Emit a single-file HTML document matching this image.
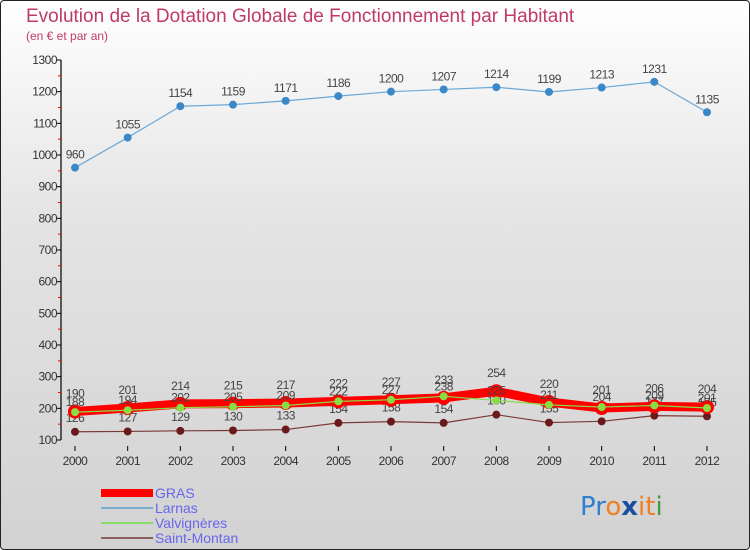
<!DOCTYPE html>
<html><head><meta charset="utf-8">
<style>
html,body{margin:0;padding:0}
body{width:750px;height:550px;overflow:hidden;font-family:"Liberation Sans",sans-serif}
#wrap{position:absolute;left:0;top:0;width:748px;height:548px;border:1px solid #222;border-radius:4px;background:linear-gradient(#ffffff 0%,#e4e4e4 40%,#d2d2d2 100%)}
</style></head>
<body>
<div id="wrap">
<svg id="chart" width="750" height="550" style="position:absolute;left:-1px;top:-1px">
<text x="26" y="22" font-size="19" fill="#c03a68">Evolution de la Dotation Globale de Fonctionnement par Habitant</text>
<text x="26" y="40" font-size="12" fill="#c03a68">(en € et par an)</text>
<g id="axes"></g>
<g id="series"></g>
<g>
<rect x="101" y="489" width="52" height="8" fill="#ff0000"/>
<text x="155" y="498" font-size="14" fill="#6666ee">GRAS</text>
<rect x="101" y="507" width="52" height="2" fill="#7aaed0"/>
<text x="155" y="513" font-size="14" fill="#6666ee">Larnas</text>
<rect x="101" y="522" width="52" height="2" fill="#88dd66"/>
<text x="155" y="528" font-size="14" fill="#6666ee">Valvignères</text>
<rect x="101" y="537" width="52" height="2" fill="#8a6060"/>
<text x="155" y="543" font-size="14" fill="#6666ee">Saint-Montan</text>
</g>
<text x="580" y="515" font-size="26" font-family="'DejaVu Sans',sans-serif"><tspan fill="#2f7fcf">Pr</tspan><tspan fill="#f08020">o</tspan><tspan fill="#1a4fa0" font-weight="bold">x</tspan><tspan fill="#f08020">it</tspan><tspan fill="#40a040">i</tspan></text>
</svg>
</div>
<script>
const years=[2000,2001,2002,2003,2004,2005,2006,2007,2008,2009,2010,2011,2012];
const yTicks=[100,200,300,400,500,600,700,800,900,1000,1100,1200,1300];
const gras=[190,201,214,215,217,222,227,233,254,220,201,206,204];
const larnas=[960,1055,1154,1159,1171,1186,1200,1207,1214,1199,1213,1231,1135];
const valvigneres=[188,194,202,205,209,222,227,238,225,211,204,209,201];
const saintMontan=[126,127,129,130,133,154,158,154,180,155,159,177,175];
const NS='http://www.w3.org/2000/svg';
function X(i){return 75+i*(707-75)/(years.length-1);}
function Y(v){return 440-(v-100)*380/1200;}
function mk(tag,attrs,parent){const e=document.createElementNS(NS,tag);for(const k in attrs)e.setAttribute(k,attrs[k]);parent.appendChild(e);return e;}
const ax=document.getElementById('axes');
const yaxis=mk('line',{x1:61,y1:Y(1300),x2:61,y2:440,stroke:'#000','stroke-width':1.2},ax);


yTicks.forEach(v=>{
  mk('line',{x1:57,y1:Y(v),x2:61,y2:Y(v),stroke:'#000'},ax);
  if(v<1300) mk('line',{x1:58,y1:Y(v+50),x2:61,y2:Y(v+50),stroke:'#ff0000'},ax);
  const t=mk('text',{x:57,y:Y(v)+4,'font-size':12,fill:'#333','text-anchor':'end','letter-spacing':'-0.5'},ax);
  t.textContent=v;
  
  
});
years.forEach((y,i)=>{
  mk('line',{x1:X(i),y1:446,x2:X(i),y2:451,stroke:'#000'},ax);
  const t=mk('text',{x:X(i),y:465,'font-size':12,fill:'#333','text-anchor':'middle','letter-spacing':'-0.5'},ax);
  t.textContent=y;
  
  
});
const sg=document.getElementById('series');
function series(data,name,color,w,dotR,dotFill,dotStroke,labelDy){
  const g=mk('g',{},sg);
  
  
  const pts=data.map((v,i)=>X(i)+','+Y(v)).join(' ');
  mk('polyline',{points:pts,fill:'none',stroke:color,'stroke-width':w,'stroke-linejoin':'round'},g);
  data.forEach((v,i)=>{
    const c=mk('circle',{cx:X(i),cy:Y(v),r:dotR,fill:dotFill,stroke:dotStroke,'stroke-width':dotStroke==='none'?0:3},g);
    
    
    const t=mk('text',{x:X(i),y:Y(v)+labelDy,'font-size':12,fill:'#444','text-anchor':'middle','letter-spacing':'-0.5'},g);
    t.textContent=v;
    
    
  });
}
series(saintMontan,'saint-montan','#7a3a3a',1.2,4,'#6a1a1a','none',-10);
series(gras,'gras','#ff0000',9,7,'#ff0000','none',-14);
series(larnas,'larnas','#6aa8d8',1.2,4,'#3a88c8','none',-9);
series(valvigneres,'valvigneres','#88dd44',1.2,4,'#88dd44','none',-6);
</script>
</body></html>
